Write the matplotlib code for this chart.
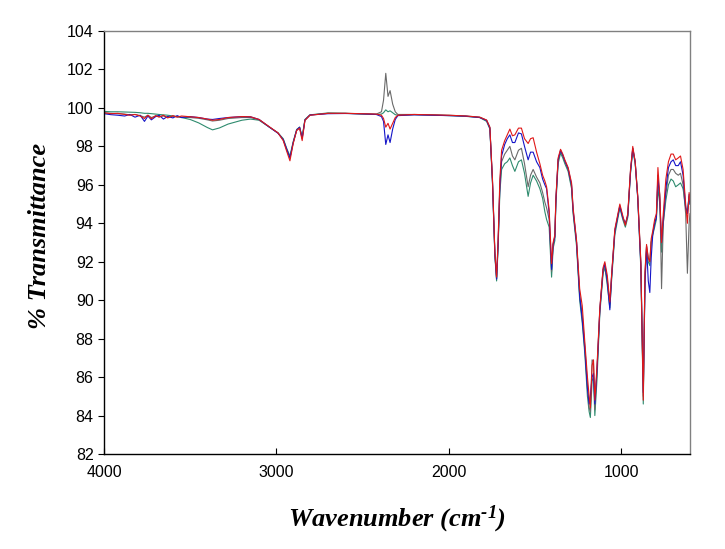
import matplotlib
matplotlib.use('Agg')
from matplotlib import pyplot as plt

# wavenumber (cm-1) and % transmittance of the four spectra
wavenumber = [4000, 3960, 3920, 3880, 3850, 3820, 3790, 3765, 3745, 3725,
              3700, 3680, 3655, 3630, 3600, 3575, 3550, 3500, 3450, 3400,
              3370, 3330, 3280, 3200, 3150, 3100, 3040, 2990, 2960, 2940,
              2921, 2902, 2882, 2865, 2850, 2834, 2805, 2700, 2600, 2500,
              2420, 2390, 2378, 2365, 2352, 2340, 2325, 2310, 2295, 2200,
              2100, 2000, 1900, 1820, 1780, 1761, 1746, 1732, 1722, 1713,
              1703, 1693, 1675, 1660, 1645, 1630, 1616, 1595, 1578, 1560,
              1539, 1525, 1510, 1490, 1471, 1455, 1442, 1432, 1417, 1403,
              1394, 1384, 1378, 1365, 1351, 1338, 1326, 1307, 1287, 1278,
              1258, 1240, 1225, 1210, 1195, 1185, 1178, 1168, 1160, 1152,
              1140, 1123, 1104, 1094, 1080, 1065, 1055, 1036, 1007, 990,
              975, 961, 945, 932, 918, 903, 885, 871, 861, 852,
              842, 833, 825, 816, 805, 795, 786, 775, 765, 755,
              740, 725, 710, 697, 683, 668, 655, 640, 625, 615,
              605, 600]

red = [99.75, 99.70, 99.72, 99.66, 99.62, 99.66, 99.58, 99.45, 99.62, 99.44,
       99.60, 99.52, 99.62, 99.48, 99.60, 99.52, 99.58, 99.54, 99.50, 99.42,
       99.36, 99.40, 99.50, 99.55, 99.54, 99.40, 99.02, 98.70, 98.30, 97.75,
       97.25, 98.15, 98.82, 98.95, 98.30, 99.35, 99.62, 99.72, 99.72, 99.70,
       99.68, 99.62, 99.45, 99.00, 99.20, 98.90, 99.20, 99.50, 99.62, 99.66,
       99.64, 99.62, 99.58, 99.52, 99.37, 99.00, 96.30, 92.50, 91.20, 93.20,
       96.30, 97.80, 98.30, 98.60, 98.90, 98.55, 98.60, 98.95, 98.95, 98.40,
       98.15, 98.40, 98.45, 97.70, 97.10, 96.50, 96.20, 95.90, 94.70, 91.90,
       93.00, 93.40, 95.30, 97.40, 97.85, 97.60, 97.30, 96.90, 96.10, 94.80,
       93.10, 90.60, 89.70, 87.80, 86.00, 85.00, 84.40, 86.60, 86.90, 84.80,
       86.50, 89.60, 91.70, 92.00, 91.30, 89.90, 91.30, 93.70, 95.00, 94.40,
       93.90, 94.50, 96.80, 98.00, 97.20, 95.40, 92.00, 84.80, 91.50, 92.90,
       92.20, 92.00, 93.20, 93.60, 94.20, 94.50, 96.90, 95.40, 93.00, 94.50,
       96.30, 97.20, 97.60, 97.60, 97.30, 97.40, 97.50, 96.80, 95.00, 94.00,
       95.60, 95.20]

blue = [99.70, 99.65, 99.62, 99.58, 99.66, 99.52, 99.62, 99.30, 99.58, 99.38,
        99.55, 99.62, 99.42, 99.56, 99.48, 99.60, 99.50, 99.55, 99.50, 99.42,
        99.40, 99.45, 99.50, 99.55, 99.54, 99.40, 99.00, 98.68, 98.35, 97.85,
        97.40, 98.20, 98.85, 99.00, 98.40, 99.37, 99.63, 99.70, 99.71, 99.69,
        99.66, 99.55, 99.30, 98.10, 98.60, 98.20, 98.90, 99.40, 99.60, 99.64,
        99.62, 99.60, 99.57, 99.50, 99.35, 98.95, 96.20, 92.40, 91.10, 93.00,
        96.00, 97.50, 98.10, 98.40, 98.60, 98.20, 98.20, 98.70, 98.65, 98.00,
        97.30, 97.70, 97.70, 97.20, 96.90, 96.30, 96.00, 95.80, 94.50, 91.60,
        92.90, 93.30, 95.20, 97.30, 97.80, 97.55, 97.25, 96.85, 96.00, 94.70,
        93.00, 90.20, 89.00, 87.40, 85.40, 84.60, 85.00, 86.00, 86.20, 84.60,
        86.30, 89.50, 91.60, 91.90, 91.00, 89.50, 91.20, 93.60, 94.90, 94.30,
        94.00, 94.40, 96.70, 97.90, 97.20, 95.30, 91.80, 85.20, 90.80, 92.80,
        91.00, 90.40, 92.20, 93.40, 94.00, 94.30, 96.50, 95.20, 93.00, 94.20,
        95.80, 96.90, 97.20, 97.30, 97.00, 97.00, 97.20, 96.50, 94.80, 94.50,
        95.50, 95.00]

green = [99.82, 99.80, 99.80, 99.79, 99.78, 99.77, 99.75, 99.72, 99.72, 99.70,
         99.68, 99.66, 99.64, 99.62, 99.58, 99.55, 99.50, 99.40, 99.22, 98.98,
         98.86, 98.96, 99.16, 99.36, 99.42, 99.36, 99.00, 98.70, 98.40, 97.90,
         97.50, 98.25, 98.88, 99.00, 98.50, 99.40, 99.64, 99.74, 99.72, 99.68,
         99.66, 99.68, 99.75, 99.90, 99.80, 99.85, 99.75, 99.65, 99.62, 99.65,
         99.63, 99.60, 99.56, 99.50, 99.30, 98.90, 96.10, 92.30, 91.00, 92.80,
         95.60, 96.80, 97.10, 97.20, 97.40, 97.00, 96.70, 97.20, 97.30, 96.60,
         95.40, 96.10, 96.50, 96.20, 95.80, 95.30, 94.60, 94.20, 93.80, 91.20,
         92.70, 93.10, 95.00, 97.10, 97.65, 97.40, 97.10, 96.70, 95.80, 94.50,
         92.80, 90.00, 88.80, 87.20, 85.00, 84.20, 83.90, 85.80, 86.00, 84.00,
         85.80, 89.30, 91.40, 91.70, 90.80, 89.60, 91.00, 93.40, 94.80, 94.20,
         93.80, 94.30, 96.60, 97.80, 97.10, 95.30, 91.60, 84.60, 91.20, 92.50,
         92.00, 91.80, 93.00, 93.40, 93.80, 94.20, 95.80, 95.00, 92.50, 94.00,
         95.20, 96.00, 96.30, 96.20, 95.90, 96.00, 96.10, 95.80, 94.80, 94.60,
         95.40, 95.00]

gray = [99.75, 99.72, 99.70, 99.68, 99.64, 99.66, 99.60, 99.52, 99.62, 99.50,
        99.58, 99.55, 99.58, 99.50, 99.56, 99.54, 99.52, 99.50, 99.46, 99.38,
        99.32, 99.36, 99.45, 99.50, 99.50, 99.38, 99.00, 98.70, 98.35, 97.85,
        97.40, 98.20, 98.85, 98.98, 98.45, 99.38, 99.63, 99.72, 99.72, 99.70,
        99.68, 99.80, 100.40, 101.80, 100.60, 100.90, 100.20, 99.80, 99.66, 99.66,
        99.64, 99.62, 99.58, 99.52, 99.36, 98.98, 96.20, 92.40, 91.10, 93.00,
        95.90, 97.20, 97.60, 97.80, 98.00, 97.50, 97.30, 97.80, 97.90, 97.10,
        95.90, 96.50, 96.80, 96.40, 96.10, 95.60, 95.10, 94.80, 94.20, 91.50,
        92.90, 93.30, 95.20, 97.30, 97.75, 97.50, 97.20, 96.80, 95.90, 94.60,
        93.00, 90.30, 89.20, 87.60, 85.60, 84.40, 84.20, 86.90, 86.80, 84.30,
        86.20, 89.50, 91.60, 91.80, 91.10, 89.80, 91.20, 93.60, 94.90, 94.30,
        93.90, 94.40, 96.70, 97.90, 97.20, 95.40, 91.90, 85.00, 91.40, 92.80,
        92.20, 92.00, 93.00, 93.50, 94.00, 94.30, 96.20, 95.50, 90.60, 94.00,
        95.50, 96.50, 96.80, 96.80, 96.60, 96.50, 96.60, 96.00, 94.50, 91.40,
        94.00, 94.50]

x_ticks = [4000, 3000, 2000, 1000]
y_ticks = list(range(82, 105, 2))

plt.rcParams['font.family'] = ['Liberation Sans', 'DejaVu Sans']
plt.rcParams['mathtext.fontset'] = 'custom'
plt.rcParams['mathtext.rm'] = 'Liberation Serif:bold:italic'
plt.rcParams['mathtext.it'] = 'Liberation Serif:bold:italic'

fig = plt.figure(figsize=(7.25, 5.49), dpi=100)
ax = fig.add_axes([0.1434, 0.1730, 0.8083, 0.7705])

ax.plot(wavenumber, green, color='#2e8b6e', lw=0.8)
ax.plot(wavenumber, gray, color='#6a6a6a', lw=0.8)
ax.plot(wavenumber, blue, color='#1515c8', lw=0.8)
ax.plot(wavenumber, red, color='#e01818', lw=0.8)

ax.set_xlim(4000, 600)
ax.set_ylim(82, 104)
ax.set_xticks(x_ticks)
ax.set_yticks(y_ticks)
ax.tick_params(axis='x', direction='in', length=4, pad=8, labelsize=11.5)
ax.tick_params(axis='y', direction='out', length=4, pad=3.5, labelsize=11.5)

ax.spines['left'].set_color('black')
ax.spines['bottom'].set_color('black')
ax.spines['top'].set_color('#808080')
ax.spines['right'].set_color('#808080')
for s in ax.spines.values():
    s.set_linewidth(1.0)

fig.text(397 / 725, 1 - 519 / 549, r'Wavenumber (cm$^{\text{-1}}$)', ha='center', va='center',
         fontsize=19, family='Liberation Serif', style='italic', weight='bold')
fig.text(40 / 725, 1 - 236 / 549, '% Transmittance', ha='center', va='center',
         rotation=90, fontsize=19, family='Liberation Serif', style='italic', weight='bold')

plt.savefig('out.png', dpi=100)
plt.close(fig)
